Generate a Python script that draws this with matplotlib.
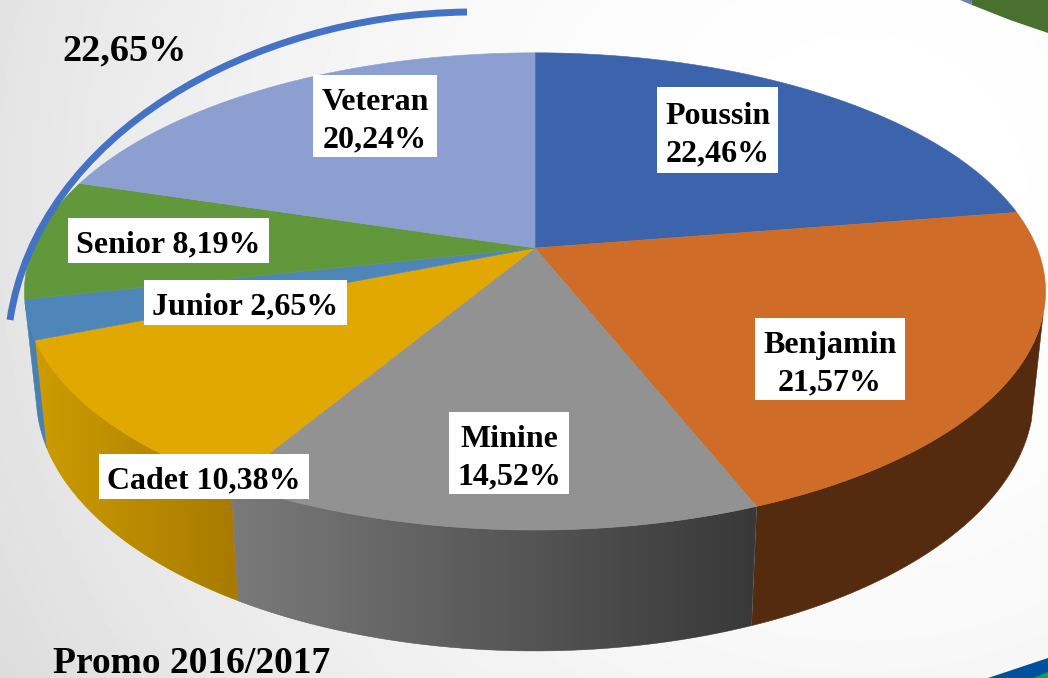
import numpy as np
import matplotlib
matplotlib.use("Agg")
import matplotlib.pyplot as plt
from matplotlib.patches import Polygon, Rectangle, PathPatch
from matplotlib.path import Path

categories = ["Poussin", "Benjamin", "Minine", "Cadet", "Junior", "Senior", "Veteran"]
values = [22.46, 21.57, 14.52, 10.38, 2.65, 8.19, 20.24]
top_colors = ["#3c64ac", "#cf6c28", "#929292", "#e0a800", "#4e86ba", "#62983c", "#8c9fd0"]
wall_left = ["#2c4a80", "#552b10", "#7a7a7a", "#cc9c00", "#4a80b0", "#4a7030", "#6a7a9c"]
wall_right = ["#2c4a80", "#552b10", "#383838", "#a87a00", "#4a80b0", "#4a7030", "#6a7a9c"]
two_lines = [True, True, True, False, False, False, True]
label_boxes = [(657, 87, 778, 173), (755, 318, 905, 400), (449, 412, 569, 494),
               (99, 454, 309, 499), (144, 280, 347, 325), (68, 218, 269, 263),
               (313, 75, 437, 157)]
arc_label = "22,65%"
title = "Promo 2016/2017"

W, H = 1048, 678
CX, CY, K = 535.0, 248.0, 0.182
AX, AY = 502.0, 230.7
BX, BY0, BY = 0.977 * 502.0, 349.0, 247.0
FONT = ["Liberation Serif", "DejaVu Serif"]


def top_pt(theta):
    u, v = np.sin(theta), -np.cos(theta)
    w = 1 - K * v
    return CX + AX * u / w, CY + AY * v / w


def bottom_pt(theta):
    u, v = np.sin(theta), -np.cos(theta)
    w = 1 - K * v
    return CX + BX * u / w, BY0 + BY * v / w


fig = plt.figure(figsize=(W / 100, H / 100), dpi=100)
ax = fig.add_axes([0, 0, 1, 1])
ax.set_xlim(0, W)
ax.set_ylim(H, 0)
ax.axis("off")

# background
yy, xx = np.mgrid[0:H:2, 0:W:2]
dist = np.hypot(xx - 860, yy - 200) / 1000
bg = np.clip(1 - 36 * dist ** 2 / 255, 0, 1)
ax.imshow(bg, cmap="gray", vmin=0, vmax=1, extent=(0, W, H, 0), aspect="auto", zorder=0)

# corner decoration
ax.add_patch(Polygon([[971, 0], [972, 5], [1010, 20], [1048, 33], [1048, 0]],
                     fc="#4a7030", ec="none", zorder=1))
ax.add_patch(Polygon([[960, 0], [971, 0], [972, 5]], fc="#6a80b0", ec="none", zorder=1))
ax.add_patch(Polygon([[988, 678], [1048, 658], [1048, 678]], fc="#0050a0", ec="none", zorder=1))
ax.add_patch(Polygon([[1033, 678], [1048, 672], [1048, 678]], fc="#10a050", ec="none", zorder=1))

edges = np.r_[0, np.cumsum(values)] / np.sum(values) * 2 * np.pi
lim_lo, lim_hi = np.radians(106), np.radians(257)

# side walls
for i in range(len(values)):
    a, b = max(edges[i], lim_lo), min(edges[i + 1], lim_hi)
    if b <= a:
        continue
    th = np.linspace(a, b, 80)
    tx, ty = top_pt(th)
    bx, by = bottom_pt(th)
    verts = np.r_[np.c_[tx, ty], np.c_[bx, by][::-1]]
    poly = Polygon(verts, fc=wall_left[i], ec=wall_left[i], lw=0.4, zorder=2)
    ax.add_patch(poly)
    if wall_left[i] != wall_right[i]:
        c0 = np.array(matplotlib.colors.to_rgb(wall_left[i]))
        c1 = np.array(matplotlib.colors.to_rgb(wall_right[i]))
        t = np.linspace(0, 1, 128)[None, :, None]
        grad = c0[None, None, :] * (1 - t) + c1[None, None, :] * t
        x0, x1 = verts[:, 0].min(), verts[:, 0].max()
        y0, y1 = verts[:, 1].min(), verts[:, 1].max()
        im = ax.imshow(grad, extent=(x0, x1, y1, y0), aspect="auto", zorder=2.1)
        im.set_clip_path(Polygon(verts, transform=ax.transData))

ax.set_xlim(0, W)
ax.set_ylim(H, 0)

# top faces
for i in range(len(values)):
    th = np.linspace(edges[i], edges[i + 1], 120)
    tx, ty = top_pt(th)
    verts = np.r_[[[CX, CY]], np.c_[tx, ty]]
    ax.add_patch(Polygon(verts, fc=top_colors[i], ec=top_colors[i], lw=0.4, zorder=3))

# labels
for i, c in enumerate(categories):
    x0, y0, x1, y1 = label_boxes[i]
    ax.add_patch(Rectangle((x0, y0), x1 - x0, y1 - y0, fc="white", ec="none", zorder=4))
    val = f"{values[i]:.2f}%".replace(".", ",")
    sep = "\n" if two_lines[i] else " "
    shift = 5 if two_lines[i] else 4.5
    ax.text((x0 + x1) / 2, (y0 + y1) / 2 + shift, c + sep + val, ha="center", va="center",
            ma="center", family=FONT, weight="bold", fontsize=23, linespacing=1.38,
            color="black", zorder=5)

# arc
arc = Path([(467, 12), (250, 15), (38, 135), (10, 320)],
           [Path.MOVETO, Path.CURVE4, Path.CURVE4, Path.CURVE4])
ax.add_patch(PathPatch(arc, fc="none", ec="#4472c4", lw=5, capstyle="butt", zorder=6))

ax.text(124.5, 51, arc_label, ha="center", va="center", family=FONT, weight="bold",
        fontsize=27.5, color="black", zorder=6)
ax.text(53, 673, title, ha="left", va="baseline", family=FONT, weight="bold",
        fontsize=27, color="black", zorder=6)

fig.savefig("out.png", dpi=100)
